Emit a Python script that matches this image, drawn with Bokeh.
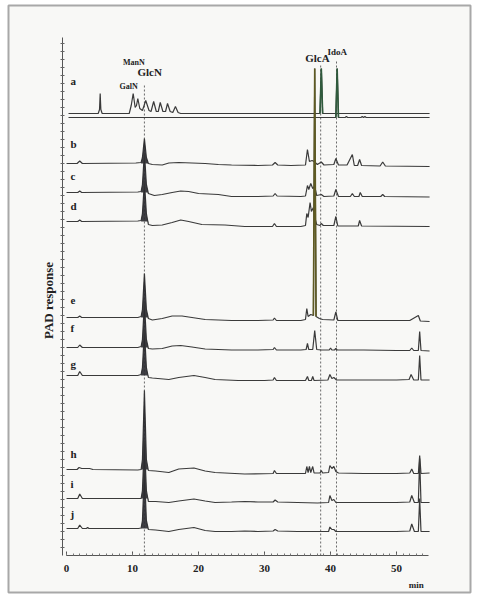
import numpy as np
from bokeh.plotting import figure
from bokeh.models import Range1d, SingleIntervalTicker, FixedTicker, LinearAxis
from bokeh.core.properties import value
from bokeh.embed import file_html
from bokeh.resources import INLINE

# ---- chromatogram traces: retention time (min) and PAD response (arb. units, relative to trace baseline)
a1_t = [0.3, 4.8, 5.0, 5.1, 5.2, 5.4, 9.5, 9.8, 10.1, 10.4, 10.6, 10.8, 11.1, 11.5, 12.0, 12.5, 12.8, 13.2, 13.6, 13.9, 14.2, 14.6, 15.0, 15.3, 15.7, 16.1, 16.5, 16.9, 17.3, 38.4, 38.6, 38.8, 55.0]
a1_y = [0, 0, 4, 20, 4, 0, 0, 8, 20, 6, 8, 15, 5, 3, 13, 3, 2, 12, 2, 2, 11, 2, 2, 10, 2, 1, 7, 1, 0, 0, 45, 0, 0]
a2_t = [0.3, 40.8, 41.0, 41.2, 42.2, 42.4, 42.6, 44.6, 44.8, 45.0, 45.2, 45.4, 55.0]
a2_y = [0, 0, 49, 0, 0, 1, 0, 0, 1, 0, 1, 0, 0]

b_t = [0, 1.6, 2.0, 2.4, 10.5, 11.3, 11.5, 11.8, 12.1, 12.4, 13.0, 14.5, 15.5, 17.0, 19.0, 21.0, 23.0, 25.0, 29.0, 31.2, 31.6, 32.0, 34.0, 36.2, 36.5, 36.8, 37.2, 37.5, 38.0, 38.6, 39.0, 40.5, 40.8, 41.2, 42.5, 43.3, 43.6, 44.1, 44.4, 44.7, 47.5, 47.9, 48.3, 55.0]
b_y = [0, 0, 2.5, 0, 0.5, 1, 6, 25, 6, 0, -1, -1.5, 0.5, 1, 0.5, 0, -1, -1.5, -2, -1.5, 1, -1.5, -2, -1.5, 14, 2, 3, 2, -1, 1.5, -1.5, -1, 5, -1.5, -1.5, 9, -2, -2, 4, -2, -2.5, 1.5, -2.5, -3]

c_t = [0, 1.7, 2.0, 2.3, 10.8, 11.3, 11.5, 11.8, 12.1, 12.4, 13.3, 14.5, 16.0, 17.3, 18.5, 20.0, 23.0, 25.0, 29.0, 31.3, 31.6, 31.9, 35.5, 36.2, 36.5, 36.7, 37.0, 37.3, 37.6, 37.9, 38.6, 39.0, 40.5, 40.8, 41.2, 43.0, 43.3, 43.6, 44.3, 44.5, 44.8, 47.6, 47.9, 48.2, 55.0]
c_y = [0, 0, 1.5, 0, 0.5, 1, 8, 40, 8, -1, -3, -2, 0, 1.5, 1, -1, -2, -4, -4, -3.5, -1, -3.5, -4, -3.5, 7, 3, 9, 4, 6, -3, -2, -4, -3.5, 3, -4, -4, -1, -4, -4, 0, -4, -4, -2, -4, -4.5]

d_t = [0, 1.7, 2.0, 2.3, 10.8, 11.3, 11.5, 11.8, 12.1, 12.4, 13.0, 14.5, 16.0, 17.3, 18.5, 20.5, 24.0, 27.0, 31.2, 31.5, 31.8, 35.5, 36.2, 36.4, 36.6, 36.9, 37.1, 37.4, 37.6, 37.9, 38.4, 38.6, 38.9, 40.5, 40.8, 41.1, 44.2, 44.4, 44.7, 55.0]
d_y = [0, 0, 1.5, 0, 0.5, 1, 8, 40, 8, -3, -4, -3.5, -1, 1.5, 0, -3, -3.5, -5, -5, -2, -5, -5, -4, 8, 4, 19, 10, 14, 4, -3, -4, -2, -4, -4, 5, -4.5, -4.5, 1, -4.5, -5]

e_t = [0, 1.7, 2.0, 2.3, 10.8, 11.3, 11.5, 11.8, 12.1, 12.4, 13.0, 14.5, 16.0, 17.5, 19.0, 21.0, 25.0, 29.0, 31.3, 31.5, 31.8, 35.5, 36.2, 36.4, 36.6, 37.0, 37.4, 37.6, 37.8, 38.3, 38.8, 40.5, 40.8, 41.1, 45.0, 48.0, 52.0, 53.3, 53.6, 55.0]
e_y = [0, 0, 1.5, 0, 0, 1, 8, 44, 8, -1, -2.5, -1, 1.5, 1.5, 0, -2, -3, -3, -2.5, -0.5, -3, -3, -2, 9, 1, 3, 2, 249, 1, -1, -2, -2.5, 5.5, -3, -3, -3, -3, 2, -3.5, -4]

f_t = [0, 1.7, 2.0, 2.4, 10.8, 11.3, 11.5, 11.8, 12.1, 12.4, 13.0, 14.5, 16.0, 17.3, 19.0, 21.0, 25.0, 29.0, 31.3, 31.5, 31.8, 35.5, 36.3, 36.5, 36.7, 37.3, 37.6, 37.9, 38.6, 39.8, 40.0, 40.2, 40.6, 40.8, 41.0, 45.0, 50.0, 52.0, 52.3, 52.6, 53.3, 53.5, 53.7, 55.0]
f_y = [0, 0, 2.5, 0, 0, 1, 8, 45, 8, -1, -1.5, -1, 1.5, 2, 0.5, -1.5, -2.5, -2.5, -2, 0, -2.5, -2.5, -2, 4, -2, -2, 17, -2, -2.5, -2.5, -0.5, -2.5, -2.5, -1, -2.5, -2.5, -3, -3, -0.5, -3, -3, 16, -3, -3.5]

g_t = [0, 1.7, 2.0, 2.4, 10.8, 11.3, 11.5, 11.8, 12.1, 12.4, 13.0, 15.5, 17.0, 19.3, 21.0, 22.5, 26.0, 30.0, 31.3, 31.5, 31.8, 36.2, 36.5, 36.7, 37.1, 37.3, 37.5, 39.6, 39.9, 40.2, 40.5, 40.9, 45.0, 50.0, 51.9, 52.2, 52.6, 53.3, 53.5, 53.7, 55.0]
g_y = [0, 0, 4, 0, 0, 1, 8, 45, 8, -2, -2.5, -4, -2, 0, -2, -4, -5, -5, -4.5, -2, -5, -5, -1, -5, -5, -1, -5, -4.5, 1, -3, -2, -4.5, -4.5, -4.5, -4, 1, -4.5, -4.5, 20, -4.5, -4.5]

h_t = [0, 1.6, 1.9, 2.3, 3.5, 4.0, 10.8, 11.3, 11.5, 11.8, 12.1, 12.4, 13.5, 15.5, 17.0, 19.3, 21.0, 22.5, 27.0, 31.3, 31.5, 31.8, 36.2, 36.4, 36.6, 36.8, 37.0, 37.3, 37.5, 38.4, 38.6, 38.8, 39.7, 39.9, 40.2, 40.5, 40.8, 41.2, 45.0, 50.0, 52.0, 52.3, 52.6, 53.3, 53.5, 53.7, 55.0]
h_y = [0, 0, 2, 1, 1, 0, -0.5, 0, 10, 79, 10, -1, -1.5, -3, 0.5, 1.5, -1.5, -3, -4.5, -4, -1, -4, -4, 3, -3, 3, -3, 3, -3.5, -3.5, -1, -3.5, -3, 4, 1, 3, -2, -3.5, -4, -4, -3.5, 0.5, -4, -4, 14, -4, -3.5]

i_t = [0, 1.7, 2.0, 2.4, 10.9, 11.3, 11.5, 11.8, 12.1, 12.4, 13.5, 15.5, 17.0, 19.3, 21.0, 22.5, 25.0, 27.0, 29.0, 31.3, 31.6, 32.0, 35.0, 38.0, 39.7, 39.9, 40.2, 40.5, 40.8, 45.0, 50.0, 52.0, 52.3, 52.7, 53.3, 53.5, 53.7, 55.0]
i_y = [0, 0, 4.5, 0, 0, 0, 8, 58, 8, -3, -3, -4, -2.5, -0.5, -2.5, -4, -3.5, -3, -3.5, -3.5, -1.5, -3.5, -4, -4.5, -4, 3, -2, -1, -4, -4, -4, -3.5, 3, -4, -4, 40, -4, -4]

j_t = [0, 1.7, 2.0, 2.4, 3.0, 3.2, 3.4, 10.9, 11.3, 11.5, 11.8, 12.1, 12.4, 13.5, 15.5, 17.0, 19.3, 21.0, 22.5, 25.0, 27.0, 29.0, 31.3, 31.6, 32.0, 35.0, 38.0, 39.7, 39.9, 40.2, 40.5, 40.8, 45.0, 50.0, 52.0, 52.3, 52.7, 53.3, 53.5, 53.7, 55.0]
j_y = [0, 0, 3.5, 0, 0, 1, 0, 0, 0.5, 8, 58, 8, -1, -1.5, -3, -1, 1, -2, -3, -3, -2.5, -3, -2.5, -1, -2.5, -3, -3, -3, 1.5, -1, -1, -3, -3, -3, -2.5, 4.5, -3, -3, 30, -3, -3]

trace_names = ["a", "b", "c", "d", "e", "f", "g", "h", "i", "j"]
trace_baselines = [440, 392, 363, 334, 238, 208, 180, 86, 57, 27]
label_y = [475, 412, 380, 350, 255, 228, 192, 102, 72, 42]
label_t = 0.6

peak_names = ["ManN", "GlcN", "GalN", "GlcA", "IdoA"]
peak_label_t = [10.2, 12.6, 9.4, 38.0, 41.0]
peak_label_y = [493, 484, 469, 498, 504]
peak_label_size = ["8px", "11px", "8px", "11px", "9px"]

marker_t = [11.8, 38.5, 40.9]      # GlcN, GlcA, IdoA retention times
marker_top = [472, 490, 495]

x_ticks = [0, 10, 20, 30, 40, 50]
x_axis_span = (0, 54.8)
y_axis_span = (0, 518)
y_axis_at = -0.6

SERIF = "Liberation Serif"
INK = "#3a3a3a"

# the plot frame is the scanned page frame; axes are drawn inside it at fixed locations
p = figure(width=477, height=595, output_backend="svg", toolbar_location=None,
           x_range=Range1d(-8.79, 61.2), y_range=Range1d(-37, 550),
           x_axis_type=None, y_axis_type=None,
           min_border_left=8, min_border_right=7, min_border_top=5, min_border_bottom=3)
p.background_fill_color = "#f8f8f6"
p.border_fill_color = "#ffffff"
p.outline_line_color = "#a8a8a8"
p.outline_line_width = 2
p.xgrid.visible = False
p.ygrid.visible = False

xaxis = LinearAxis(fixed_location=0, bounds=x_axis_span,
                   ticker=SingleIntervalTicker(interval=10, num_minor_ticks=10))
xaxis.major_label_overrides = {t: str(t) for t in x_ticks}
xaxis.axis_line_color = "#555555"
xaxis.major_tick_line_color = "#555555"
xaxis.minor_tick_line_color = "#777777"
xaxis.major_tick_in = 4
xaxis.major_tick_out = 0
xaxis.minor_tick_in = 2
xaxis.minor_tick_out = 0
xaxis.major_label_standoff = 9
xaxis.major_label_text_font = SERIF
xaxis.major_label_text_font_style = "bold"
xaxis.major_label_text_font_size = "11px"
xaxis.major_label_text_color = "#222222"
p.add_layout(xaxis, "below")

yaxis = LinearAxis(fixed_location=y_axis_at, bounds=y_axis_span,
                   ticker=FixedTicker(ticks=[], minor_ticks=list(np.arange(8, 518, 8))))
yaxis.axis_line_color = "#555555"
yaxis.minor_tick_line_color = "#666666"
yaxis.minor_tick_in = 2
yaxis.minor_tick_out = 2
p.add_layout(yaxis, "left")

# axis titles
p.text(x=[-2.7], y=[255], text=["PAD response"], angle=np.pi / 2,
       text_font=value(SERIF), text_font_style="bold", text_font_size="13px",
       text_color="#222222", text_baseline="middle", text_align="center")
p.text(x=[53.0], y=[-29], text=["min"], text_font=value(SERIF), text_font_style="bold",
       text_font_size="9px", text_color="#222222", text_baseline="middle", text_align="center")

# dashed marker lines
p.segment(x0=marker_t, y0=[0] * len(marker_t), x1=marker_t, y1=marker_top,
          line_color="#6a6a6a", line_dash="2 2", line_width=1)

# traces
series = [(a1_t, a1_y, 442), (a2_t, a2_y, 438)]
for name, base in zip(trace_names[1:], trace_baselines[1:]):
    series.append((globals()[name + "_t"], globals()[name + "_y"], base))

for t, y, base in series:
    t = np.asarray(t, float)
    y = np.asarray(y, float) + base
    p.line(t, y, line_color=INK, line_width=1.2)
    m = (t >= 11.3) & (t <= 12.4)
    if m.sum() >= 3 and (y[m].max() - base) > 20:
        tt = np.concatenate([t[m], t[m][::-1]])
        yy = np.concatenate([y[m], np.full(m.sum(), base)])
        p.patch(tt, yy, fill_color="#2a2a30", line_color=None, fill_alpha=0.9)

# coloured tall standard peaks
def overlay(t, y, base, lo, hi, color):
    t = np.asarray(t, float)
    y = np.asarray(y, float) + base
    m = (t >= lo) & (t <= hi)
    p.line(t[m], y[m], line_color=color, line_width=1.6)

overlay(e_t, e_y, 238, 37.4, 37.8, "#5e5a22")
overlay(a1_t, a1_y, 442, 38.4, 38.8, "#2f5a3c")
overlay(a2_t, a2_y, 438, 40.8, 41.2, "#2f5a3c")

# trace letters
p.text(x=[label_t] * len(trace_names), y=label_y, text=trace_names,
       text_font=value(SERIF), text_font_style="bold", text_font_size="11px",
       text_color="#222222", text_baseline="middle", text_align="left")

# peak names
for name, t, y, s in zip(peak_names, peak_label_t, peak_label_y, peak_label_size):
    p.text(x=[t], y=[y], text=[name], text_font=value(SERIF), text_font_style="bold",
           text_font_size=s, text_color="#222222", text_baseline="middle", text_align="center")

open("out.html", "w").write(file_html(p, INLINE))
